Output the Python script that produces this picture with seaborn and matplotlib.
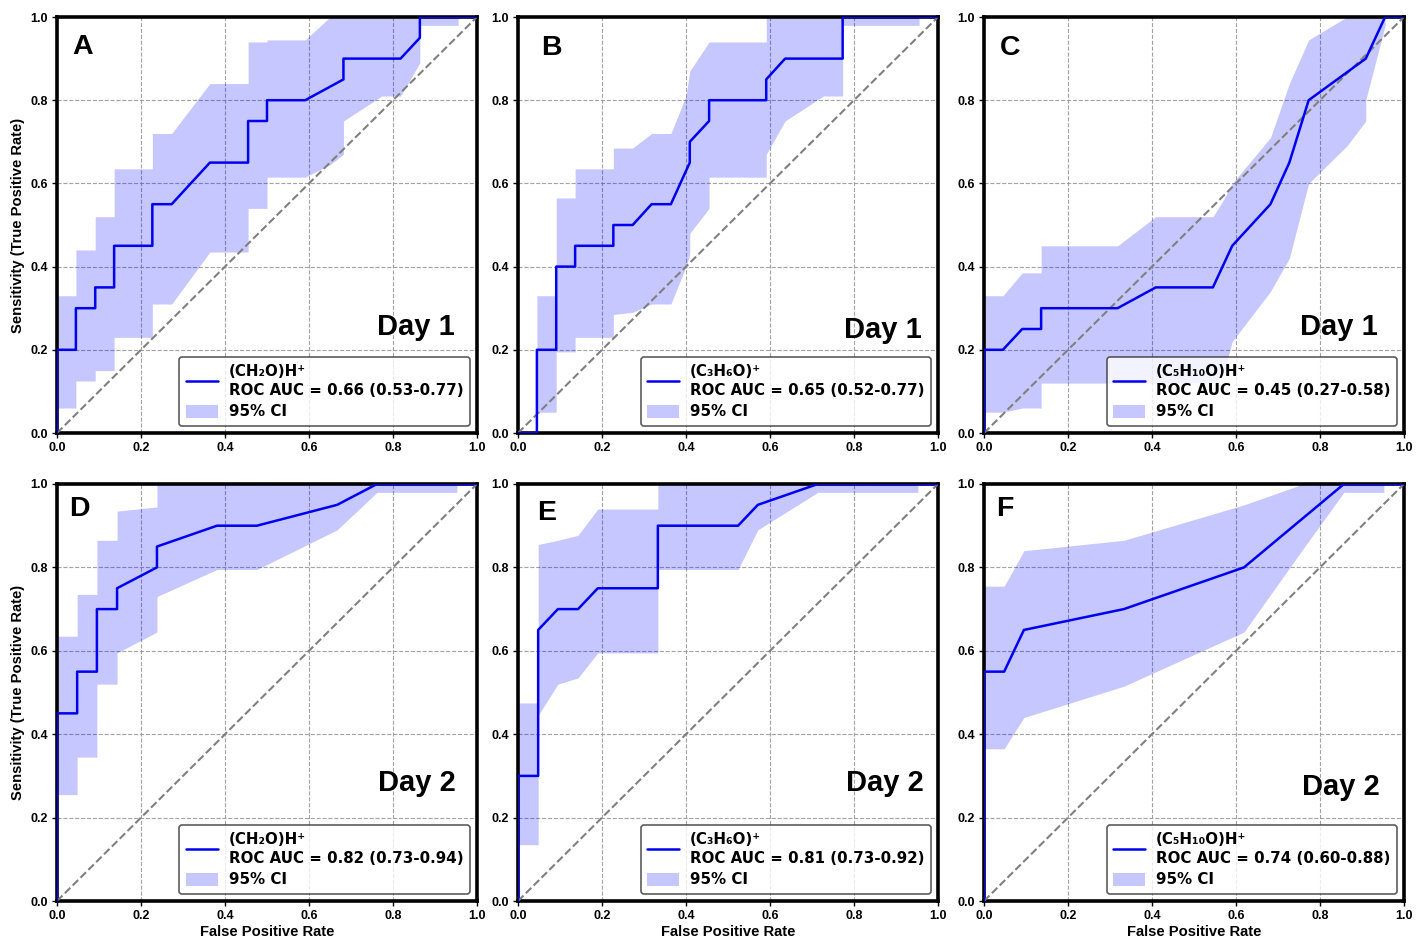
import numpy as np
import pandas as pd
import matplotlib
matplotlib.use("Agg")
import matplotlib.pyplot as plt
import seaborn as sns
from matplotlib.lines import Line2D
from matplotlib.patches import Patch

# ---------------- data ----------------
panel_letters = ["A", "B", "C", "D", "E", "F"]
day_labels = ["Day 1", "Day 1", "Day 1", "Day 2", "Day 2", "Day 2"]
compounds = ["(CH₂O)H⁺", "(C₃H₆O)⁺", "(C₅H₁₀O)H⁺", "(CH₂O)H⁺", "(C₃H₆O)⁺", "(C₅H₁₀O)H⁺"]
auc_text = ["0.66 (0.53-0.77)", "0.65 (0.52-0.77)", "0.45 (0.27-0.58)",
            "0.82 (0.73-0.94)", "0.81 (0.73-0.92)", "0.74 (0.60-0.88)"]

fpr_A = [0, 0, 0.045, 0.045, 0.091, 0.091, 0.136, 0.136, 0.227, 0.227, 0.273, 0.364, 0.455, 0.455, 0.5, 0.5, 0.591, 0.682, 0.682, 0.818, 0.864, 0.864, 1.0]
tpr_A = [0, 0.2, 0.2, 0.3, 0.3, 0.35, 0.35, 0.45, 0.45, 0.55, 0.55, 0.65, 0.65, 0.75, 0.75, 0.8, 0.8, 0.85, 0.9, 0.9, 0.95, 1.0, 1.0]
ci_x_A = [0, 0.045, 0.045, 0.091, 0.091, 0.136, 0.136, 0.227, 0.227, 0.273, 0.364, 0.455, 0.455, 0.5, 0.5, 0.591, 0.65, 0.682, 0.682, 0.773, 0.818, 0.864, 0.864, 0.955]
ci_hi_A = [0.33, 0.33, 0.44, 0.44, 0.52, 0.52, 0.635, 0.635, 0.72, 0.72, 0.84, 0.84, 0.94, 0.94, 0.945, 0.945, 1.0, 1.0, 1.0, 1.0, 1.0, 1.0, 1.0, 1.0]
ci_lo_A = [0.06, 0.06, 0.125, 0.125, 0.15, 0.15, 0.23, 0.23, 0.31, 0.31, 0.435, 0.435, 0.54, 0.54, 0.615, 0.615, 0.645, 0.67, 0.75, 0.81, 0.81, 0.89, 0.98, 0.98]

fpr_B = [0, 0.045, 0.045, 0.091, 0.091, 0.136, 0.136, 0.227, 0.227, 0.273, 0.318, 0.364, 0.409, 0.409, 0.455, 0.455, 0.591, 0.591, 0.636, 0.773, 0.773, 1.0]
tpr_B = [0, 0, 0.2, 0.2, 0.4, 0.4, 0.45, 0.45, 0.5, 0.5, 0.55, 0.55, 0.65, 0.7, 0.75, 0.8, 0.8, 0.85, 0.9, 0.9, 1.0, 1.0]
ci_x_B = [0.045, 0.091, 0.091, 0.136, 0.136, 0.227, 0.227, 0.273, 0.318, 0.364, 0.4, 0.409, 0.409, 0.455, 0.455, 0.591, 0.591, 0.636, 0.727, 0.773, 0.773, 0.955]
ci_hi_B = [0.33, 0.33, 0.565, 0.565, 0.635, 0.635, 0.685, 0.685, 0.72, 0.72, 0.81, 0.87, 0.87, 0.94, 0.94, 0.94, 1.0, 1.0, 1.0, 1.0, 1.0, 1.0]
ci_lo_B = [0.05, 0.05, 0.195, 0.195, 0.23, 0.23, 0.285, 0.29, 0.31, 0.31, 0.40, 0.43, 0.48, 0.54, 0.615, 0.615, 0.67, 0.75, 0.81, 0.81, 0.98, 0.98]

fpr_C = [0, 0, 0.045, 0.091, 0.136, 0.136, 0.318, 0.409, 0.545, 0.591, 0.682, 0.727, 0.773, 0.909, 0.955, 1.0]
tpr_C = [0, 0.2, 0.2, 0.25, 0.25, 0.3, 0.3, 0.35, 0.35, 0.45, 0.55, 0.65, 0.8, 0.9, 1.0, 1.0]
ci_x_C = [0, 0.045, 0.091, 0.136, 0.136, 0.318, 0.409, 0.545, 0.57, 0.591, 0.682, 0.727, 0.773, 0.864, 0.909, 0.909, 0.955]
ci_hi_C = [0.33, 0.33, 0.385, 0.385, 0.45, 0.45, 0.52, 0.52, 0.56, 0.6, 0.71, 0.84, 0.945, 1.0, 1.0, 1.0, 1.0]
ci_lo_C = [0.05, 0.05, 0.06, 0.06, 0.12, 0.12, 0.12, 0.12, 0.14, 0.22, 0.34, 0.42, 0.6, 0.69, 0.75, 0.8, 0.98]

fpr_D = [0, 0, 0.048, 0.048, 0.095, 0.095, 0.143, 0.143, 0.238, 0.238, 0.381, 0.476, 0.667, 0.762, 1.0]
tpr_D = [0, 0.45, 0.45, 0.55, 0.55, 0.7, 0.7, 0.75, 0.8, 0.85, 0.9, 0.9, 0.95, 1.0, 1.0]
ci_x_D = [0, 0.048, 0.048, 0.095, 0.095, 0.143, 0.143, 0.238, 0.238, 0.381, 0.476, 0.667, 0.762, 0.952]
ci_hi_D = [0.635, 0.635, 0.735, 0.735, 0.865, 0.865, 0.935, 0.945, 1.0, 1.0, 1.0, 1.0, 1.0, 1.0]
ci_lo_D = [0.255, 0.255, 0.345, 0.345, 0.52, 0.52, 0.595, 0.645, 0.73, 0.795, 0.795, 0.89, 0.98, 0.98]

fpr_E = [0, 0, 0.048, 0.048, 0.095, 0.143, 0.19, 0.333, 0.333, 0.524, 0.571, 0.714, 1.0]
tpr_E = [0, 0.3, 0.3, 0.65, 0.7, 0.7, 0.75, 0.75, 0.9, 0.9, 0.95, 1.0, 1.0]
ci_x_E = [0, 0.048, 0.048, 0.095, 0.143, 0.19, 0.333, 0.333, 0.524, 0.571, 0.714, 0.952]
ci_hi_E = [0.475, 0.475, 0.855, 0.865, 0.877, 0.94, 0.94, 1.0, 1.0, 1.0, 1.0, 1.0]
ci_lo_E = [0.135, 0.135, 0.445, 0.52, 0.535, 0.595, 0.595, 0.795, 0.795, 0.89, 0.98, 0.98]

fpr_F = [0, 0, 0.048, 0.095, 0.333, 0.619, 0.857, 1.0]
tpr_F = [0, 0.55, 0.55, 0.65, 0.7, 0.8, 1.0, 1.0]
ci_x_F = [0, 0.048, 0.095, 0.333, 0.619, 0.76, 0.857, 0.952]
ci_hi_F = [0.755, 0.755, 0.84, 0.865, 0.95, 1.0, 1.0, 1.0]
ci_lo_F = [0.365, 0.365, 0.44, 0.515, 0.645, 0.845, 0.98, 0.98]

tick_values = [0.0, 0.2, 0.4, 0.6, 0.8, 1.0]
tick_labels = ["0.0", "0.2", "0.4", "0.6", "0.8", "1.0"]

curves = [(fpr_A, tpr_A, ci_x_A, ci_lo_A, ci_hi_A),
          (fpr_B, tpr_B, ci_x_B, ci_lo_B, ci_hi_B),
          (fpr_C, tpr_C, ci_x_C, ci_lo_C, ci_hi_C),
          (fpr_D, tpr_D, ci_x_D, ci_lo_D, ci_hi_D),
          (fpr_E, tpr_E, ci_x_E, ci_lo_E, ci_hi_E),
          (fpr_F, tpr_F, ci_x_F, ci_lo_F, ci_hi_F)]

# ---------------- style / layout ----------------
sns.set_style("white")
plt.rcParams['font.family'] = ['Liberation Sans', 'DejaVu Sans']
plt.rcParams['text.color'] = 'black'
plt.rcParams['axes.labelcolor'] = 'black'
plt.rcParams['xtick.color'] = 'black'
plt.rcParams['ytick.color'] = 'black'

fig = plt.figure(figsize=(14.22, 9.40), dpi=100)
fig.patch.set_facecolor("white")

lefts = [57, 518, 984]
col_w = 420
rows = [(17, 433), (484, 901)]
W, H = 1422, 940

letter_pos = [(0.036, 0.928), (0.056, 0.925), (0.038, 0.925),
              (0.029, 0.94), (0.046, 0.93), (0.028, 0.94)]
day_pos = [(0.948, 0.255), (0.962, 0.248), (0.938, 0.255),
           (0.950, 0.283), (0.967, 0.283), (0.943, 0.273)]

fill_color = (0.0, 0.0, 1.0, 0.22)

for i in range(6):
    r, c = divmod(i, 3)
    top, bot = rows[r]
    rect = [lefts[c] / W, (H - bot) / H, col_w / W, (bot - top) / H]
    ax = fig.add_axes(rect)
    fpr, tpr, cx, clo, chi = curves[i]

    ax.fill_between(cx, clo, chi, color=fill_color, linewidth=0, zorder=2)
    df = pd.DataFrame({"fpr": fpr, "tpr": tpr})
    sns.lineplot(data=df, x="fpr", y="tpr", sort=False, estimator=None,
                 color="#0000ee", linewidth=1.8, ax=ax, zorder=4)
    ax.plot([0, 1], [0, 1], linestyle="--", color="gray", linewidth=1.5, zorder=3)

    ax.set_xlim(0, 1)
    ax.set_ylim(0, 1)
    ax.set_xticks(tick_values)
    ax.set_yticks(tick_values)
    ax.set_xticklabels(tick_labels, fontweight="bold", fontsize=9)
    ax.set_yticklabels(tick_labels, fontweight="bold", fontsize=9)
    ax.tick_params(axis="both", which="major", length=3.5, width=1, color="black",
                   direction="out", bottom=True, left=True, pad=3)
    ax.grid(True, linestyle="--", color="#999999", linewidth=0.8, alpha=0.9)
    for sp in ax.spines.values():
        sp.set_visible(True)
        sp.set_color("black")
        sp.set_linewidth(2.6)

    if c == 0:
        ax.set_ylabel("Sensitivity (True Positive Rate)", fontweight="bold", fontsize=10.6, labelpad=4)
    else:
        ax.set_ylabel("")
    if r == 1:
        ax.set_xlabel("False Positive Rate", fontweight="bold", fontsize=10.6, labelpad=2)
    else:
        ax.set_xlabel("")

    ax.text(letter_pos[i][0], letter_pos[i][1], panel_letters[i], transform=ax.transAxes,
            fontsize=20.5, fontweight="bold", ha="left", va="center", zorder=6)
    ax.text(day_pos[i][0], day_pos[i][1], day_labels[i], transform=ax.transAxes,
            fontsize=21, fontweight="bold", ha="right", va="center", zorder=6)

    handles = [Line2D([0], [0], color="#0000ee", linewidth=1.8),
               Patch(facecolor=fill_color, edgecolor="none")]
    labels = [compounds[i] + "\nROC AUC = " + auc_text[i], "95% CI"]
    leg = ax.legend(handles, labels, loc="lower right",
                    prop={"family": "DejaVu Sans", "weight": "bold", "size": 10.8},
                    frameon=True, fancybox=True, framealpha=0.8,
                    edgecolor="#333333", borderpad=0.45, labelspacing=0.45,
                    handlelength=2.1, handleheight=0.9, handletextpad=0.75,
                    borderaxespad=0.45)
    leg.get_frame().set_linewidth(1.2)
    for t in leg.get_texts():
        t.set_linespacing(1.3)
    leg.set_zorder(7)

fig.savefig("out.png", dpi=100, facecolor="white")
